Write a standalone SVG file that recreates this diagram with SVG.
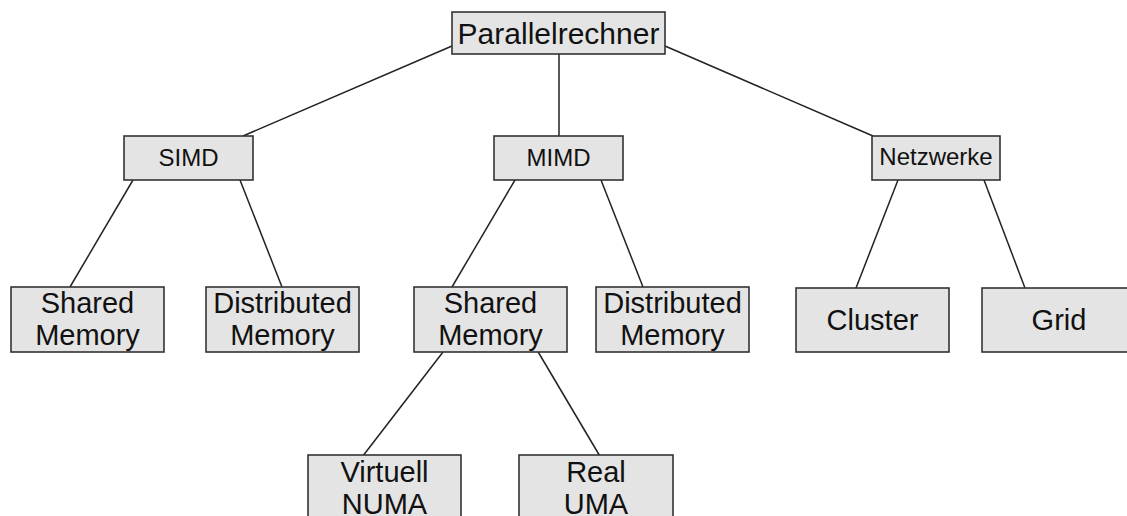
<svg xmlns="http://www.w3.org/2000/svg" width="1127" height="516" viewBox="0 0 1127 516">
  <style>
    .box { fill: #e4e4e4; stroke: #333333; stroke-width: 1.6; }
    .lbl { font-family: "Liberation Sans", Arial, sans-serif; fill: #111111; text-anchor: middle; }
    .big { font-size: 29px; }
    .mid { font-size: 24px; }
    .top { font-size: 30px; }
    .edge { stroke: #222222; stroke-width: 1.5; fill: none; }
  </style>
  <rect width="1127" height="516" fill="#ffffff"/>

  <!-- tree edges -->
  <g id="connectors">
    <line class="edge" x1="452" y1="46" x2="243" y2="136"/>
    <line class="edge" x1="559" y1="54" x2="559" y2="136"/>
    <line class="edge" x1="665" y1="46" x2="873" y2="136"/>
    <line class="edge" x1="133" y1="180" x2="70" y2="287"/>
    <line class="edge" x1="240" y1="180" x2="282" y2="287"/>
    <line class="edge" x1="515" y1="180" x2="452" y2="287"/>
    <line class="edge" x1="601" y1="180" x2="643" y2="287"/>
    <line class="edge" x1="898" y1="180" x2="856" y2="288"/>
    <line class="edge" x1="984" y1="180" x2="1025" y2="288"/>
    <line class="edge" x1="443" y1="352" x2="359" y2="461"/>
    <line class="edge" x1="537" y1="350" x2="601" y2="458"/>
  </g>

  <g id="parallelrechner">
    <rect class="box" x="452" y="12" width="213" height="42"/>
    <text class="lbl top" x="558.5" y="44">Parallelrechner</text>
  </g>

  <g id="simd">
    <rect class="box" x="124" y="136" width="129" height="44"/>
    <text class="lbl mid" x="188.5" y="166">SIMD</text>
  </g>

  <g id="mimd">
    <rect class="box" x="494" y="136" width="129" height="44"/>
    <text class="lbl mid" x="558.5" y="166">MIMD</text>
  </g>

  <g id="netzwerke">
    <rect class="box" x="872" y="136" width="128" height="44"/>
    <text class="lbl mid" x="936" y="165">Netzwerke</text>
  </g>

  <g id="simd-shared">
    <rect class="box" x="11" y="287" width="153" height="65"/>
    <text class="lbl big" x="87.5" y="313">Shared</text>
    <text class="lbl big" x="87.5" y="345">Memory</text>
  </g>

  <g id="simd-distributed">
    <rect class="box" x="206" y="287" width="153" height="65"/>
    <text class="lbl big" x="282.5" y="313">Distributed</text>
    <text class="lbl big" x="282.5" y="345">Memory</text>
  </g>

  <g id="mimd-shared">
    <rect class="box" x="414" y="287" width="153" height="65"/>
    <text class="lbl big" x="490.5" y="313">Shared</text>
    <text class="lbl big" x="490.5" y="345">Memory</text>
  </g>

  <g id="mimd-distributed">
    <rect class="box" x="596" y="287" width="153" height="65"/>
    <text class="lbl big" x="672.5" y="313">Distributed</text>
    <text class="lbl big" x="672.5" y="345">Memory</text>
  </g>

  <g id="cluster">
    <rect class="box" x="796" y="288" width="153" height="64"/>
    <text class="lbl big" x="872.5" y="330">Cluster</text>
  </g>

  <g id="grid">
    <rect class="box" x="982" y="288" width="160" height="64"/>
    <text class="lbl big" x="1059" y="330">Grid</text>
  </g>

  <g id="virtuell-numa">
    <rect class="box" x="308" y="455" width="153" height="80"/>
    <text class="lbl big" x="384.5" y="482">Virtuell</text>
    <text class="lbl big" x="384.5" y="514">NUMA</text>
  </g>

  <g id="real-uma">
    <rect class="box" x="519" y="455" width="154" height="80"/>
    <text class="lbl big" x="596" y="482">Real</text>
    <text class="lbl big" x="596" y="514">UMA</text>
  </g>
</svg>
